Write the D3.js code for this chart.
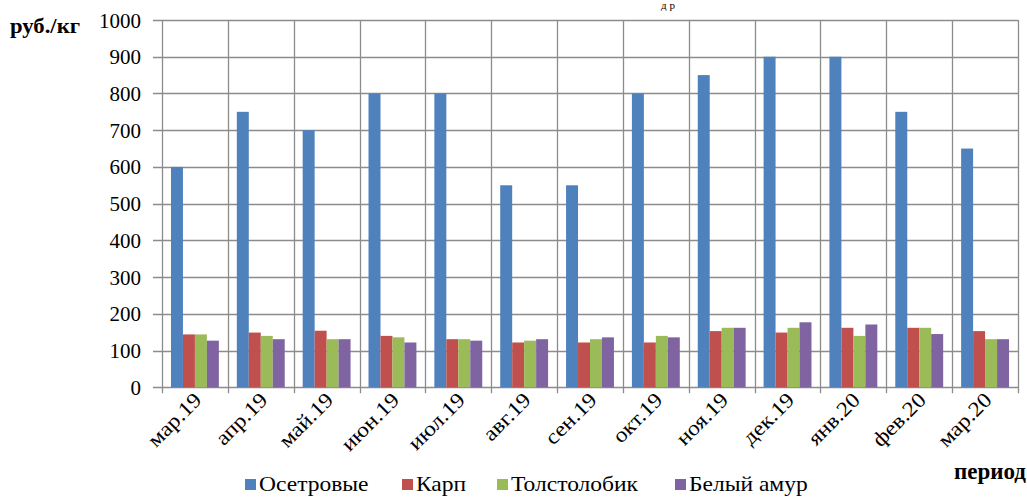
<!DOCTYPE html>
<html><head><meta charset="utf-8">
<script src="https://cdn.jsdelivr.net/npm/d3@7"></script>
<style>body{margin:0;background:#fff}svg{display:block}</style>
</head><body>
<svg id="c" width="1027" height="497" font-family="'Liberation Serif', 'DejaVu Serif', 'Times New Roman', serif"></svg>
<script>
const categories = ["мар.19","апр.19","май.19","июн.19","июл.19","авг.19","сен.19","окт.19","ноя.19","дек.19","янв.20","фев.20","мар.20"];
const seriesNames = ["Осетровые","Карп","Толстолобик","Белый амур"];
const osetrovye  = [600,750,700,800,800,550,550,800,850,900,900,750,650];
const karp       = [144,149,154,140,131,122,122,122,153,149,162,162,153];
const tolstolobik= [144,140,131,136,131,127,131,140,162,162,140,162,131];
const belyiAmur  = [127,131,131,122,127,131,136,136,162,177,171,145,131];
const yTicks = [0,100,200,300,400,500,600,700,800,900,1000];
const colors = ["#4F81BD","#C0504D","#9BBB59","#8064A2"];
const yLabel = "руб./кг", xLabel = "период", titleFrag = "д р";

const values = [osetrovye, karp, tolstolobik, belyiAmur];
const svg = d3.select("#c");
const L=162, R=1018, T=20, B=387.3;
const x = d3.scaleBand().domain(categories).range([L,R]).padding(0);
const xs = d3.scaleBand().domain(seriesNames).range([0,x.bandwidth()]).paddingInner(0).paddingOuter(0.75);
const y = d3.scaleLinear().domain([0,1000]).range([B,T]);
const grid="#8c8c8c";

// partial title (clipped at the top in the reference)
svg.append("text").attr("x",668).attr("y",9).attr("text-anchor","middle").style("font-size","11px").text(titleFrag);

// horizontal grid
svg.append("g").selectAll("line").data(yTicks).join("line")
  .attr("x1",L-9).attr("x2",R).attr("y1",d=>Math.round(y(d))+0.5).attr("y2",d=>Math.round(y(d))+0.5)
  .attr("stroke",grid).attr("stroke-width",1.3);
// vertical grid
const bounds = categories.map(c=>x(c)).concat([R]);
svg.append("g").selectAll("line").data(bounds).join("line")
  .attr("x1",d=>Math.round(d)+0.5).attr("x2",d=>Math.round(d)+0.5).attr("y1",T).attr("y2",B+6)
  .attr("stroke",grid).attr("stroke-width",1.3);

// bars
seriesNames.forEach((s,si)=>{
  svg.append("g").selectAll("rect").data(categories).join("rect")
    .attr("x",c=>x(c)+xs(s)).attr("width",xs.bandwidth())
    .attr("y",(c,i)=>y(values[si][i])).attr("height",(c,i)=>B-y(values[si][i]))
    .attr("fill",colors[si]);
});

// y tick labels
svg.append("g").selectAll("text").data(yTicks).join("text")
  .attr("transform",d=>`translate(141,${y(d)+7.5})`)
  .attr("text-anchor","end").style("font-size","21px").text(d=>d);

// x tick labels
svg.append("g").selectAll("text").data(categories).join("text")
  .attr("transform",c=>`translate(${x(c)+x.bandwidth()/2+8},${B+14}) rotate(-45) scale(1.12,1)`)
  .attr("text-anchor","end").style("font-size","21px").text(c=>c);

svg.append("text").attr("transform","translate(10,33) scale(1.08,1)").style("font-size","21px").style("font-weight","bold").text(yLabel);
svg.append("text").attr("x",1026).attr("y",479).attr("text-anchor","end").style("font-size","23px").style("font-weight","bold").text(xLabel);

// legend
const legX=[245,402,497,675];
const lg = svg.append("g").selectAll("g").data(seriesNames).join("g").attr("transform",(d,i)=>`translate(${legX[i]},0)`);
lg.append("rect").attr("x",0).attr("y",479).attr("width",11).attr("height",11).attr("fill",(d,i)=>colors[i]);
lg.append("text").attr("transform","translate(14,491) scale(1.12,1)").style("font-size","21px").text(d=>d);
</script>
</body></html>
